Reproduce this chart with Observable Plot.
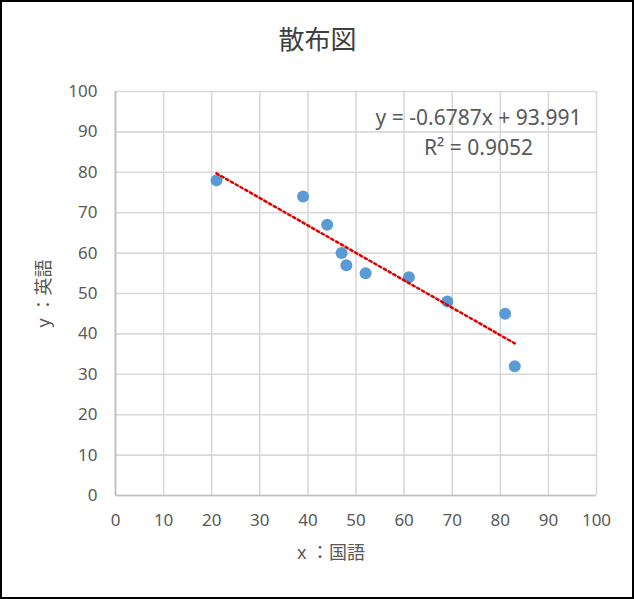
<!DOCTYPE html>
<html><head><meta charset="utf-8">
<script src="https://cdn.jsdelivr.net/npm/d3@7"></script>
<script src="https://cdn.jsdelivr.net/npm/@observablehq/plot@0.6"></script>
<style>
body{margin:0;background:#fff}
#chart svg{display:block;outline:2px solid #000;outline-offset:-2px}
</style></head><body><div id="chart"></div>
<script>
const title = "散布図";
const xLabel = "x ：国語";
const yLabel = "y ：英語";
const kokugo = [21, 39, 44, 47, 48, 52, 61, 69, 81, 83];
const eigo = [78, 74, 67, 60, 57, 55, 54, 48, 45, 32];
const xTicks = [0, 10, 20, 30, 40, 50, 60, 70, 80, 90, 100];
const yTicks = [0, 10, 20, 30, 40, 50, 60, 70, 80, 90, 100];

const data = kokugo.map((x, i) => ({x, y: eigo[i]}));
const mx = d3.mean(kokugo), my = d3.mean(eigo);
const sxy = d3.sum(data, d => (d.x - mx) * (d.y - my));
const sxx = d3.sum(data, d => (d.x - mx) ** 2);
const syy = d3.sum(data, d => (d.y - my) ** 2);
const slope = sxy / sxx, intercept = my - slope * mx, r2 = sxy * sxy / (sxx * syy);
const eq = `y = ${slope.toFixed(4)}x + ${intercept.toFixed(3)}\nR² = ${r2.toFixed(4)}`;
const trend = d3.extent(kokugo).map(x => ({x, y: intercept + slope * x}));

const font = '"Noto Sans", "Noto Sans CJK JP", sans-serif';
const chart = Plot.plot({
  width: 634, height: 599,
  marginLeft: 115, marginRight: 38, marginTop: 91, marginBottom: 104,
  style: {fontFamily: font, background: "#fff"},
  x: {domain: [0, 100]},
  y: {domain: [0, 100]},
  marks: [
    Plot.gridX(xTicks, {stroke: "#d9d9d9", strokeOpacity: 1, strokeWidth: 1.6}),
    Plot.gridY(yTicks, {stroke: "#d9d9d9", strokeOpacity: 1, strokeWidth: 1.6}),
    Plot.ruleY([0], {stroke: "#bfbfbf", strokeWidth: 1.7}),
    Plot.ruleX([0], {stroke: "#bfbfbf", strokeWidth: 1.7}),
    Plot.axisX(xTicks, {tickSize: 0, tickPadding: 18, fontSize: 17, color: "#595959", label: null}),
    Plot.axisY(yTicks, {tickSize: 0, tickPadding: 18, fontSize: 17, color: "#595959", label: null}),
    Plot.dot(data, {x: "x", y: "y", r: 6, fill: "#5b9bd5"}),
    Plot.line(trend, {x: "x", y: "y", stroke: "#e00000", strokeWidth: 2.5, strokeDasharray: "2.5,3"}),
    Plot.text([title], {frameAnchor: "top", lineAnchor: "middle", dx: -38.5, dy: -51, fontSize: 26, fill: "#404040", fontFamily: '"Noto Sans CJK JP", sans-serif'}),
    Plot.text([xLabel], {frameAnchor: "bottom", lineAnchor: "middle", dx: -25, dy: 58, fontSize: 18, fill: "#595959"}),
    Plot.text([yLabel], {frameAnchor: "left", lineAnchor: "middle", textAnchor: "middle", rotate: -90, dx: -71, fontSize: 18, fill: "#595959"}),
    Plot.text([eq], {frameAnchor: "top-right", lineAnchor: "middle", textAnchor: "middle", dx: -118, dy: 39, fontSize: 21, lineHeight: 1.45, fill: "#595959"})
  ]
});
d3.select(chart).selectAll("path").filter(function() { return this.getAttribute("stroke") === "#e00000" || this.parentNode.getAttribute("stroke") === "#e00000"; })
  .attr("stroke-dasharray", "2.5 3");
document.getElementById("chart").append(chart);
</script></body></html>
